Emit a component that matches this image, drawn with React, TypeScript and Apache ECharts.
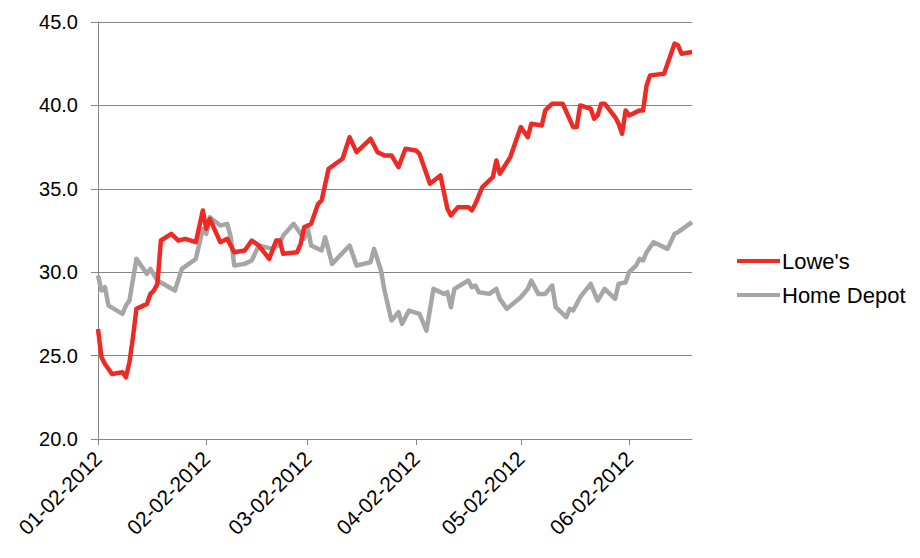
import React, { useEffect, useRef } from "react";
import * as echarts from "echarts";

// Axis: every calendar day from 2012-01-02 to 2012-06-20
const startDate = "2012-01-02";
const endDate = "2012-06-20";
const tickDates = ["2012-01-02", "2012-02-02", "2012-03-02", "2012-04-02", "2012-05-02", "2012-06-02"];
const yTicks = [20, 25, 30, 35, 40, 45];

const lowesDates = [
  "2012-01-02", "2012-01-03", "2012-01-04", "2012-01-06", "2012-01-09", "2012-01-10", "2012-01-11", "2012-01-12",
  "2012-01-13", "2012-01-16", "2012-01-17", "2012-01-18", "2012-01-19", "2012-01-20", "2012-01-23", "2012-01-25",
  "2012-01-27", "2012-01-30", "2012-02-01", "2012-02-02", "2012-02-03", "2012-02-06", "2012-02-08", "2012-02-10",
  "2012-02-13", "2012-02-15", "2012-02-17", "2012-02-20", "2012-02-22", "2012-02-23", "2012-02-24", "2012-02-28",
  "2012-02-29", "2012-03-01", "2012-03-03", "2012-03-05", "2012-03-06", "2012-03-08", "2012-03-10", "2012-03-12",
  "2012-03-14", "2012-03-16", "2012-03-20", "2012-03-22", "2012-03-24", "2012-03-26", "2012-03-28", "2012-03-30",
  "2012-04-02", "2012-04-03", "2012-04-04", "2012-04-06", "2012-04-09", "2012-04-10", "2012-04-11", "2012-04-12",
  "2012-04-14", "2012-04-17", "2012-04-18", "2012-04-19", "2012-04-21", "2012-04-24", "2012-04-25", "2012-04-26",
  "2012-04-29", "2012-05-02", "2012-05-04", "2012-05-05", "2012-05-08", "2012-05-09", "2012-05-11", "2012-05-14",
  "2012-05-17", "2012-05-18", "2012-05-19", "2012-05-22", "2012-05-23", "2012-05-24", "2012-05-25", "2012-05-26",
  "2012-05-29", "2012-05-30", "2012-05-31", "2012-06-01", "2012-06-02", "2012-06-05", "2012-06-06", "2012-06-07",
  "2012-06-08", "2012-06-12", "2012-06-15", "2012-06-16", "2012-06-17", "2012-06-20",
];
const lowesValues = [
  26.6, 24.9, 24.5, 23.9, 24.0, 23.7, 24.6, 26.1,
  27.8, 28.1, 28.7, 28.9, 29.3, 31.9, 32.3, 31.9,
  32.0, 31.8, 33.7, 32.6, 33.2, 31.8, 32.0, 31.2,
  31.3, 31.9, 31.6, 30.8, 31.9, 31.9, 31.1, 31.2,
  31.7, 32.7, 32.9, 34.1, 34.3, 36.2, 36.5, 36.8,
  38.1, 37.2, 38.0, 37.2, 37.0, 37.0, 36.3, 37.4,
  37.3, 37.1, 36.5, 35.3, 35.8, 34.8, 33.8, 33.4,
  33.9, 33.9, 33.7, 34.1, 35.1, 35.7, 36.7, 35.9,
  36.9, 38.7, 38.1, 38.9, 38.8, 39.7, 40.1, 40.1,
  38.7, 38.7, 40.0, 39.8, 39.2, 39.4, 40.1, 40.1,
  39.3, 38.9, 38.3, 39.7, 39.4, 39.7, 39.7, 41.2,
  41.8, 41.9, 43.7, 43.6, 43.1, 43.2,
];

const homeDepotDates = [
  "2012-01-02", "2012-01-03", "2012-01-04", "2012-01-05", "2012-01-09", "2012-01-10", "2012-01-11", "2012-01-13",
  "2012-01-16", "2012-01-17", "2012-01-19", "2012-01-24", "2012-01-26", "2012-01-30", "2012-02-01", "2012-02-02",
  "2012-02-03", "2012-02-06", "2012-02-08", "2012-02-09", "2012-02-10", "2012-02-13", "2012-02-15", "2012-02-17",
  "2012-02-21", "2012-02-23", "2012-02-24", "2012-02-27", "2012-03-01", "2012-03-02", "2012-03-03", "2012-03-06",
  "2012-03-07", "2012-03-09", "2012-03-14", "2012-03-16", "2012-03-20", "2012-03-21", "2012-03-23", "2012-03-24",
  "2012-03-26", "2012-03-28", "2012-03-29", "2012-03-31", "2012-04-03", "2012-04-05", "2012-04-07", "2012-04-10",
  "2012-04-11", "2012-04-12", "2012-04-13", "2012-04-17", "2012-04-18", "2012-04-19", "2012-04-20", "2012-04-23",
  "2012-04-25", "2012-04-26", "2012-04-28", "2012-05-02", "2012-05-04", "2012-05-05", "2012-05-07", "2012-05-09",
  "2012-05-11", "2012-05-12", "2012-05-15", "2012-05-16", "2012-05-17", "2012-05-19", "2012-05-22", "2012-05-24",
  "2012-05-26", "2012-05-29", "2012-05-30", "2012-06-01", "2012-06-02", "2012-06-04", "2012-06-05", "2012-06-06",
  "2012-06-07", "2012-06-09", "2012-06-13", "2012-06-15", "2012-06-16", "2012-06-20",
];
const homeDepotValues = [
  29.8, 28.9, 29.1, 28.0, 27.5, 28.0, 28.3, 30.8,
  29.9, 30.2, 29.5, 28.9, 30.2, 30.8, 32.6, 32.3,
  33.3, 32.8, 32.9, 32.1, 30.4, 30.5, 30.7, 31.6,
  31.4, 31.7, 32.2, 32.9, 32.0, 32.7, 31.6, 31.3,
  32.1, 30.5, 31.6, 30.4, 30.6, 31.4, 30.1, 28.9,
  27.1, 27.6, 26.9, 27.7, 27.5, 26.5, 29.0, 28.7,
  28.8, 27.9, 29.0, 29.5, 29.1, 29.2, 28.8, 28.7,
  29.0, 28.4, 27.8, 28.5, 29.0, 29.5, 28.7, 28.7,
  29.2, 27.9, 27.3, 27.8, 27.7, 28.5, 29.3, 28.3,
  29.0, 28.4, 29.3, 29.4, 30.0, 30.4, 30.8, 30.7,
  31.2, 31.8, 31.4, 32.3, 32.4, 33.0,
];

const RED = "#ED2A24";
const GREY = "#A6A6A6";
const AXIS = "#868686";
const FONT = "'Liberation Sans', Arial, sans-serif";

function buildDays(): string[] {
  const out: string[] = [];
  const d = new Date(startDate + "T00:00:00Z");
  const end = new Date(endDate + "T00:00:00Z");
  while (d.getTime() <= end.getTime()) {
    out.push(d.toISOString().slice(0, 10));
    d.setUTCDate(d.getUTCDate() + 1);
  }
  return out;
}

function fmt(iso: string): string {
  const [y, m, d] = iso.split("-");
  return `${m}-${d}-${y}`;
}

export default function App() {
  const ref = useRef<HTMLDivElement>(null);

  useEffect(() => {
    if (!ref.current) return;
    const chart = echarts.init(ref.current, undefined, { renderer: "svg" });
    const days = buildDays();
    const idx = (s: string) => days.indexOf(s);
    const tickIdx = new Set(tickDates.map(idx));
    const toPairs = (dates: string[], vals: number[]) => dates.map((s, i) => [idx(s), vals[i]]);

    chart.setOption({
      animation: false,
      backgroundColor: "#ffffff",
      textStyle: { fontFamily: FONT },
      grid: { left: 98, right: 228, top: 22, bottom: 119, containLabel: false },
      legend: {
        orient: "vertical",
        left: 732,
        top: 245,
        icon: "rect",
        itemWidth: 43,
        itemHeight: 4,
        itemGap: 12,
        textStyle: { fontSize: 22, color: "#000", fontFamily: FONT, padding: [0, 0, 0, -3] },
        data: ["Lowe's", "Home Depot"],
      },
      xAxis: {
        type: "category",
        data: days,
        boundaryGap: false,
        axisLine: { show: true, lineStyle: { color: AXIS, width: 1 } },
        axisTick: {
          show: true,
          length: 6,
          interval: (i: number) => tickIdx.has(i),
          lineStyle: { color: AXIS },
        },
        axisLabel: {
          interval: (i: number) => tickIdx.has(i),
          rotate: 45,
          margin: 16,
          fontSize: 21,
          color: "#000",
          fontFamily: FONT,
          formatter: (v: string) => fmt(v),
        },
        splitLine: { show: false },
      },
      yAxis: {
        type: "value",
        min: yTicks[0],
        max: yTicks[yTicks.length - 1],
        interval: 5,
        axisLine: { show: true, lineStyle: { color: AXIS, width: 1 } },
        axisTick: { show: true, length: 7, lineStyle: { color: AXIS } },
        axisLabel: {
          margin: 20,
          fontSize: 20,
          color: "#000",
          fontFamily: FONT,
          formatter: (v: number) => v.toFixed(1),
        },
        splitLine: { show: true, lineStyle: { color: AXIS, width: 1 } },
      },
      series: [
        {
          name: "Lowe's",
          type: "line",
          data: toPairs(lowesDates, lowesValues),
          showSymbol: false,
          symbol: "none",
          lineStyle: { color: RED, width: 4.5, join: "round" },
          itemStyle: { color: RED },
          z: 3,
        },
        {
          name: "Home Depot",
          type: "line",
          data: toPairs(homeDepotDates, homeDepotValues),
          showSymbol: false,
          symbol: "none",
          lineStyle: { color: GREY, width: 4.5, join: "round" },
          itemStyle: { color: GREY },
          z: 2,
        },
      ],
    });
    return () => chart.dispose();
  }, []);

  return <div ref={ref} style={{ width: 920, height: 558, margin: -8 }} />;
}
